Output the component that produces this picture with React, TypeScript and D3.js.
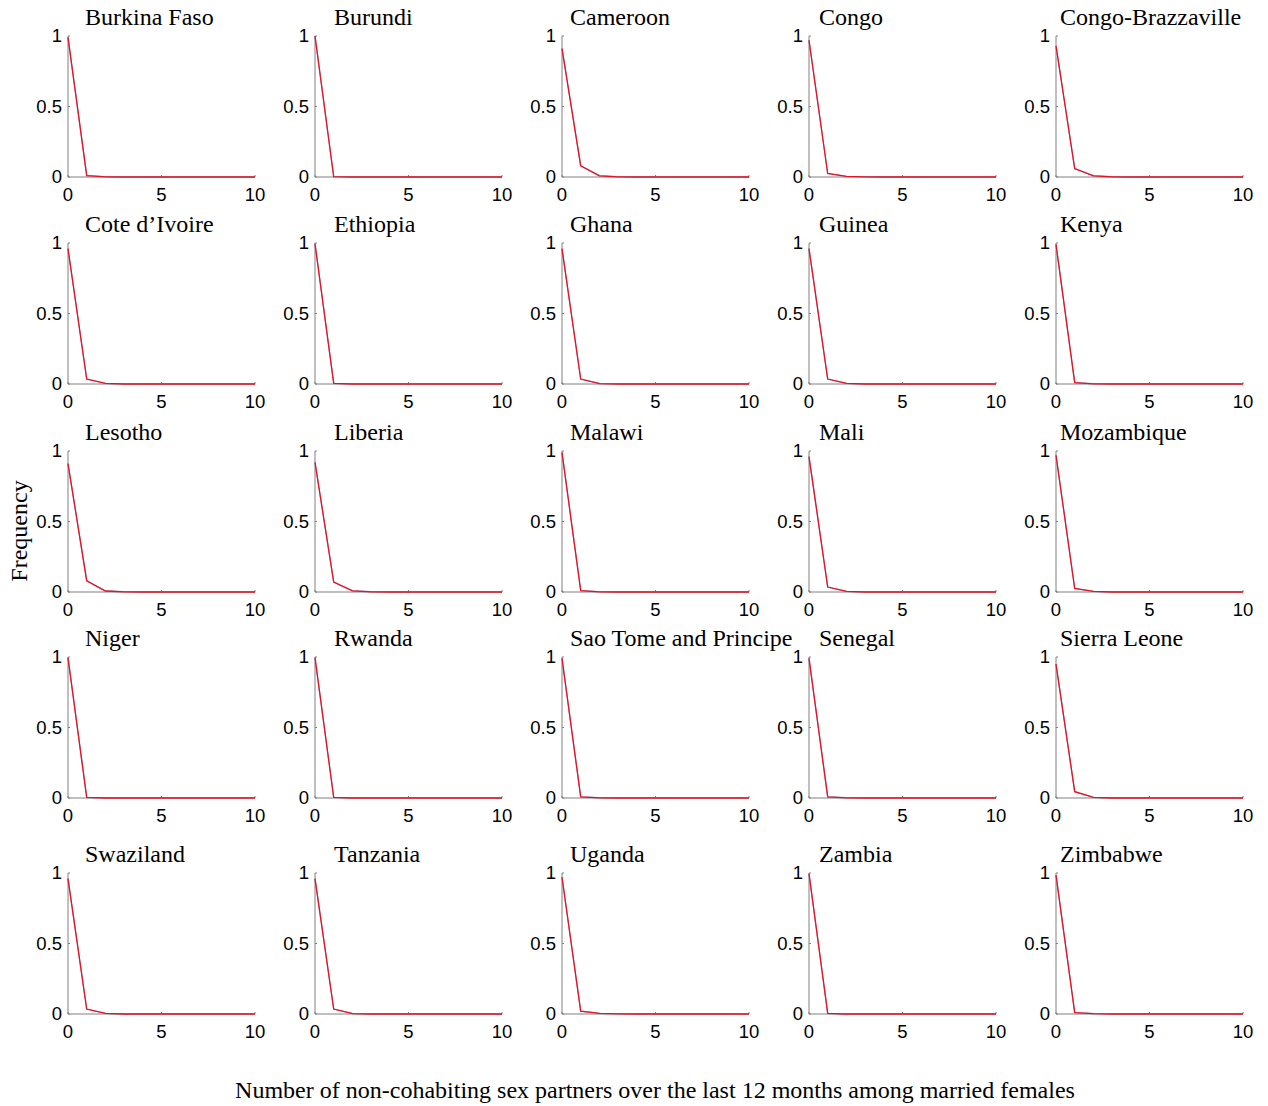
import React from "react";
import * as d3 from "d3";

const countries: string[] = [
  "Burkina Faso", "Burundi", "Cameroon", "Congo", "Congo-Brazzaville",
  "Cote d\u2019Ivoire", "Ethiopia", "Ghana", "Guinea", "Kenya",
  "Lesotho", "Liberia", "Malawi", "Mali", "Mozambique",
  "Niger", "Rwanda", "Sao Tome and Principe", "Senegal", "Sierra Leone",
  "Swaziland", "Tanzania", "Uganda", "Zambia", "Zimbabwe",
];

const partners: number[] = [0, 1, 2, 3, 4, 5, 6, 7, 8, 9, 10];

// observed frequency (blue) per country
const observed: number[][] = [
  [0.99, 0.01, 0.002, 0, 0, 0, 0, 0, 0, 0, 0],
  [1.0, 0.003, 0, 0, 0, 0, 0, 0, 0, 0, 0],
  [0.91, 0.08, 0.01, 0.002, 0, 0, 0, 0, 0, 0, 0],
  [0.97, 0.025, 0.005, 0.002, 0, 0, 0, 0, 0, 0, 0],
  [0.93, 0.06, 0.01, 0.002, 0, 0, 0, 0, 0, 0, 0],
  [0.96, 0.035, 0.005, 0, 0, 0, 0, 0, 0, 0, 0],
  [0.995, 0.004, 0, 0, 0, 0, 0, 0, 0, 0, 0],
  [0.96, 0.035, 0.004, 0, 0, 0, 0, 0, 0, 0, 0],
  [0.96, 0.035, 0.005, 0, 0, 0, 0, 0, 0, 0, 0],
  [0.99, 0.01, 0.002, 0, 0, 0, 0, 0, 0, 0, 0],
  [0.91, 0.08, 0.008, 0.002, 0, 0, 0, 0, 0, 0, 0],
  [0.92, 0.07, 0.01, 0.002, 0, 0, 0, 0, 0, 0, 0],
  [0.99, 0.01, 0.002, 0, 0, 0, 0, 0, 0, 0, 0],
  [0.96, 0.035, 0.005, 0, 0, 0, 0, 0, 0, 0, 0],
  [0.97, 0.025, 0.005, 0, 0, 0, 0, 0, 0, 0, 0],
  [0.995, 0.004, 0, 0, 0, 0, 0, 0, 0, 0, 0],
  [0.995, 0.004, 0, 0, 0, 0, 0, 0, 0, 0, 0],
  [0.99, 0.008, 0.002, 0, 0, 0, 0, 0, 0, 0, 0],
  [0.99, 0.008, 0.002, 0, 0, 0, 0, 0, 0, 0, 0],
  [0.95, 0.045, 0.005, 0, 0, 0, 0, 0, 0, 0, 0],
  [0.96, 0.035, 0.005, 0, 0, 0, 0, 0, 0, 0, 0],
  [0.96, 0.035, 0.004, 0, 0, 0, 0, 0, 0, 0, 0],
  [0.97, 0.02, 0.005, 0.002, 0, 0, 0, 0, 0, 0, 0],
  [0.995, 0.004, 0, 0, 0, 0, 0, 0, 0, 0, 0],
  [0.985, 0.01, 0.003, 0, 0, 0, 0, 0, 0, 0, 0],
];

// fitted frequency (red) per country
const fitted: number[][] = [
  [0.99, 0.01, 0.001, 0, 0, 0, 0, 0, 0, 0, 0],
  [1.0, 0.002, 0, 0, 0, 0, 0, 0, 0, 0, 0],
  [0.91, 0.08, 0.008, 0.001, 0, 0, 0, 0, 0, 0, 0],
  [0.97, 0.025, 0.004, 0.001, 0, 0, 0, 0, 0, 0, 0],
  [0.93, 0.06, 0.008, 0.001, 0, 0, 0, 0, 0, 0, 0],
  [0.96, 0.035, 0.004, 0, 0, 0, 0, 0, 0, 0, 0],
  [0.995, 0.004, 0, 0, 0, 0, 0, 0, 0, 0, 0],
  [0.96, 0.035, 0.003, 0, 0, 0, 0, 0, 0, 0, 0],
  [0.96, 0.035, 0.004, 0, 0, 0, 0, 0, 0, 0, 0],
  [0.99, 0.01, 0.001, 0, 0, 0, 0, 0, 0, 0, 0],
  [0.91, 0.08, 0.007, 0.001, 0, 0, 0, 0, 0, 0, 0],
  [0.92, 0.07, 0.008, 0.001, 0, 0, 0, 0, 0, 0, 0],
  [0.99, 0.01, 0.001, 0, 0, 0, 0, 0, 0, 0, 0],
  [0.96, 0.035, 0.004, 0, 0, 0, 0, 0, 0, 0, 0],
  [0.97, 0.025, 0.004, 0, 0, 0, 0, 0, 0, 0, 0],
  [0.995, 0.004, 0, 0, 0, 0, 0, 0, 0, 0, 0],
  [0.995, 0.004, 0, 0, 0, 0, 0, 0, 0, 0, 0],
  [0.99, 0.008, 0.001, 0, 0, 0, 0, 0, 0, 0, 0],
  [0.99, 0.008, 0.001, 0, 0, 0, 0, 0, 0, 0, 0],
  [0.95, 0.045, 0.004, 0, 0, 0, 0, 0, 0, 0, 0],
  [0.96, 0.035, 0.004, 0, 0, 0, 0, 0, 0, 0, 0],
  [0.96, 0.035, 0.003, 0, 0, 0, 0, 0, 0, 0, 0],
  [0.97, 0.02, 0.004, 0.001, 0, 0, 0, 0, 0, 0, 0],
  [0.995, 0.004, 0, 0, 0, 0, 0, 0, 0, 0, 0],
  [0.985, 0.01, 0.002, 0, 0, 0, 0, 0, 0, 0, 0],
];

const xTicks: number[] = [0, 5, 10];
const yTicks: number[] = [0, 0.5, 1];
const yTickLabels: string[] = ["0", "0.5", "1"];

const xLabel = "Number of non-cohabiting sex partners over the last 12 months among married females";
const yLabel = "Frequency";

const W = 1268;
const H = 1106;
const colX0 = [68, 315, 562, 809, 1056];
const titleX = [85, 334, 570, 819, 1060];
const rowTop = [36, 243, 451, 657, 873];
const panelW = 187;
const panelH = 141;
const axisColor = "#808080";
const serif = "'Liberation Serif', 'Times New Roman', serif";
const sans = "'Liberation Sans', Arial, sans-serif";

function Panel({ idx }: { idx: number }) {
  const col = idx % 5;
  const row = Math.floor(idx / 5);
  const x0 = colX0[col];
  const y0 = rowTop[row];
  const x = d3.scaleLinear().domain([0, 10]).range([x0, x0 + panelW]);
  const y = d3.scaleLinear().domain([0, 1]).range([y0 + panelH, y0]);
  const line = d3
    .line<number>()
    .x((_, i) => x(partners[i]))
    .y((d) => y(d));
  return (
    <g>
      <text x={titleX[col]} y={y0 - 11} fontFamily={serif} fontSize={24} fill="#000">
        {countries[idx]}
      </text>
      <line x1={x(0)} x2={x(10)} y1={y(0)} y2={y(0)} stroke={axisColor} strokeWidth={1} />
      <line x1={x(0)} x2={x(0)} y1={y(0)} y2={y(1)} stroke={axisColor} strokeWidth={1} />
      {xTicks.map((t) => (
        <g key={"x" + t}>
          <line x1={x(t)} x2={x(t)} y1={y(0)} y2={y(0) - 2} stroke={axisColor} />
          <text x={x(t)} y={y(0) + 24} textAnchor="middle" fontFamily={sans} fontSize={18.5} fill="#000">
            {t}
          </text>
        </g>
      ))}
      {yTicks.map((t, i) => (
        <g key={"y" + t}>
          <line x1={x(0)} x2={x(0) + 2} y1={y(t)} y2={y(t)} stroke={axisColor} />
          <text x={x(0) - 6} y={y(t) + 6} textAnchor="end" fontFamily={sans} fontSize={18.5} fill="#000">
            {yTickLabels[i]}
          </text>
        </g>
      ))}
      <path d={line(observed[idx]) || ""} fill="none" stroke="#9a9ae0" strokeWidth={1.2} />
      <path d={line(fitted[idx]) || ""} fill="none" stroke="#e3141e" strokeWidth={1.3} />
    </g>
  );
}

export default function App() {
  return (
    <svg width={W} height={H} style={{ position: "absolute", left: 0, top: 0, background: "#fff" }}>
      <rect width={W} height={H} fill="#fff" />
      {countries.map((_, i) => (
        <Panel key={i} idx={i} />
      ))}
      <text
        transform={`translate(27,531) rotate(-90)`}
        textAnchor="middle"
        fontFamily={serif}
        fontSize={24}
        fill="#000"
      >
        {yLabel}
      </text>
      <text x={655} y={1098} textAnchor="middle" fontFamily={serif} fontSize={24} fill="#000">
        {xLabel}
      </text>
    </svg>
  );
}
